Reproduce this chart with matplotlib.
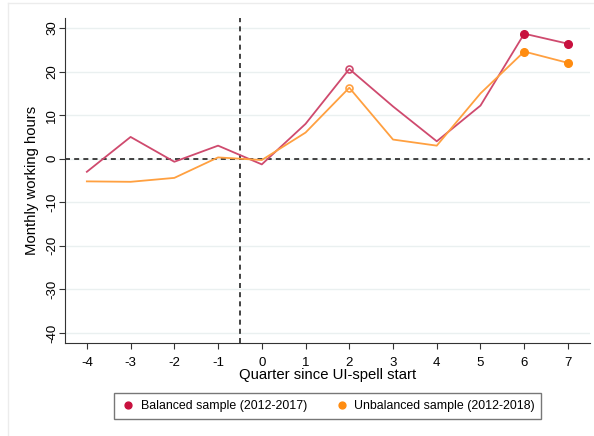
import matplotlib
matplotlib.use("Agg")
import matplotlib.pyplot as plt
from matplotlib.lines import Line2D

plt.rcParams['font.family'] = ['Liberation Sans', 'DejaVu Sans']
plt.rcParams['axes.unicode_minus'] = False

quarters = [-4, -3, -2, -1, 0, 1, 2, 3, 4, 5, 6, 7]
balanced = [-3.0, 5.0, -0.7, 3.0, -1.3, 8.0, 20.6, 12.0, 4.0, 12.2, 28.7, 26.4]
unbalanced = [-5.2, -5.3, -4.4, 0.3, -0.3, 6.0, 16.3, 4.4, 3.0, 15.0, 24.6, 22.0]
hollow_idx = [6]
filled_idx = [10, 11]

red_line = '#cf4a6e'
red_mark = '#c8103e'
org_line = '#ffa040'
org_mark = '#ff8c10'

fig = plt.figure(figsize=(5.94, 4.36), dpi=100)

# faint outer frame (top and left edges only, as in the original export)
fig.add_artist(Line2D([8 / 594, 1], [1 - 3 / 436, 1 - 3 / 436], color='#ececec', lw=1))
fig.add_artist(Line2D([8 / 594, 8 / 594], [0, 1 - 3 / 436], color='#ececec', lw=1))

ax = fig.add_axes([0.1094, 0.2133, 0.8836, 0.7454])

ax.plot(quarters, balanced, color=red_line, lw=1.3, zorder=3)
ax.plot(quarters, unbalanced, color=org_line, lw=1.3, zorder=3)

ax.plot([quarters[i] for i in hollow_idx], [balanced[i] for i in hollow_idx], 'o',
        mfc='none', mec=red_line, ms=5, mew=1.2, zorder=4)
ax.plot([quarters[i] for i in hollow_idx], [unbalanced[i] for i in hollow_idx], 'o',
        mfc='none', mec=org_line, ms=5, mew=1.2, zorder=4)
ax.plot([quarters[i] for i in filled_idx], [balanced[i] for i in filled_idx], 'o',
        color=red_mark, ms=5.5, zorder=4, label='Balanced sample (2012-2017)')
ax.plot([quarters[i] for i in filled_idx], [unbalanced[i] for i in filled_idx], 'o',
        color=org_mark, ms=5.5, zorder=4, label='Unbalanced sample (2012-2018)')

ax.axhline(0, color='#222222', lw=1.2, ls=(0, (3, 2.5)), zorder=2)
ax.axvline(-0.5, color='#222222', lw=1.2, ls=(0, (3, 2.5)), zorder=2)

ax.set_xlim(-4.5, 7.5)
ax.set_ylim(-42.3, 32.3)
ax.set_xticks(quarters)
ax.set_yticks(range(-40, 31, 10))
ax.yaxis.grid(True, color='#eaf0f0', lw=1)
ax.set_axisbelow(True)
for lab in ax.get_yticklabels():
    lab.set_rotation(90)
    lab.set_va('center')
ax.tick_params(labelsize=9.5, color='#333333', length=4)
ax.tick_params(axis='x', pad=6)
ax.tick_params(axis='y', pad=1)
ax.spines['top'].set_visible(False)
ax.spines['right'].set_visible(False)
ax.spines['left'].set_color('#333333')
ax.spines['bottom'].set_color('#333333')

ax.set_xlabel('Quarter since UI-spell start', fontsize=10.7, labelpad=-1)
ax.set_ylabel('Monthly working hours', fontsize=10.7)
ax.yaxis.set_label_coords(-0.05, 0.5)

leg = fig.legend(loc='center', bbox_to_anchor=(0.552, 0.069), ncol=2, fontsize=8.9,
                 frameon=True, fancybox=False, edgecolor='#555555', handletextpad=0.4,
                 columnspacing=2.2, markerscale=0.9, borderpad=0.55, handlelength=1.2)
leg.get_frame().set_linewidth(1.0)

fig.savefig('out.png', dpi=100)
